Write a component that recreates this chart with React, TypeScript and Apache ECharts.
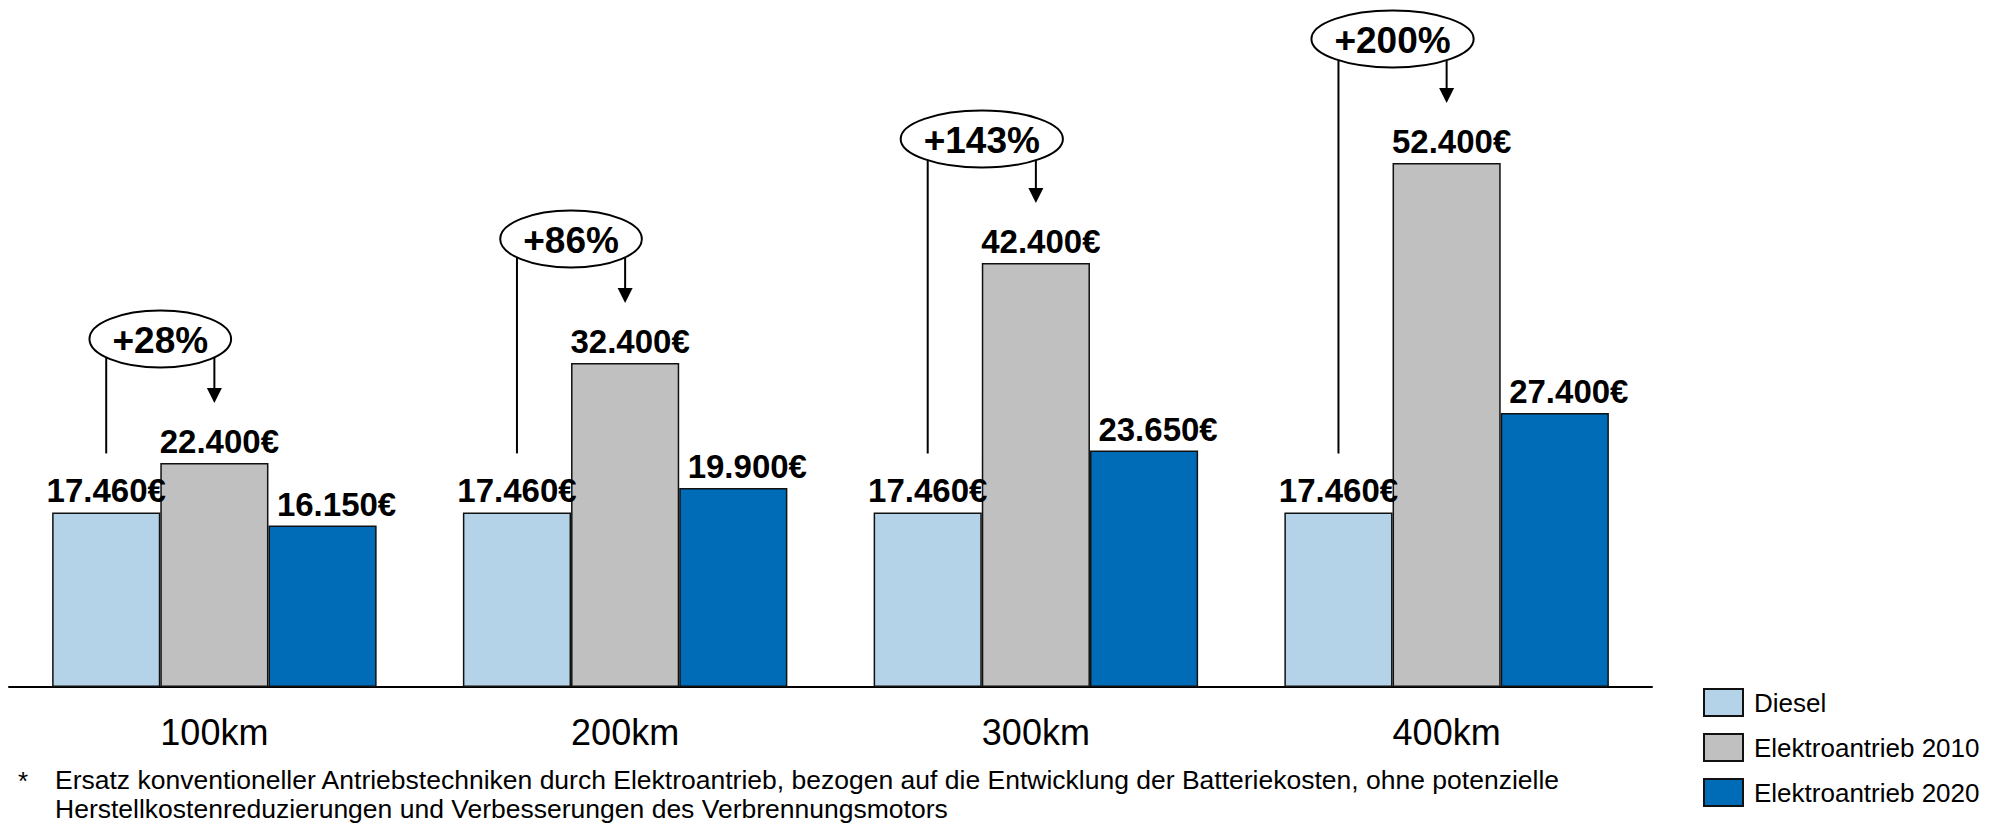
import React, { useEffect, useRef } from "react";
import * as echarts from "echarts";

const categories = ["100km", "200km", "300km", "400km"];
const seriesNames = ["Diesel", "Elektroantrieb 2010", "Elektroantrieb 2020"];
const diesel = [17460, 17460, 17460, 17460];
const elektro2010 = [22400, 32400, 42400, 52400];
const elektro2020 = [16150, 19900, 23650, 27400];
const increaseLabels = ["+28%", "+86%", "+143%", "+200%"];
const footnoteLines = [
  "Ersatz konventioneller Antriebstechniken durch Elektroantrieb, bezogen auf die Entwicklung der Batteriekosten, ohne potenzielle",
  "Herstellkostenreduzierungen und Verbesserungen des Verbrennungsmotors",
];

const FONT = '"Liberation Sans", Arial, sans-serif';
const colors = ["#b4d3e8", "#c0c0c0", "#006bb6"];
const CAT_GAP = 0.21;

function fmt(v: number) {
  return String(v).replace(/\B(?=(\d{3})+(?!\d))/g, ".") + "€";
}

function measure(text: string, font: string) {
  const ctx = document.createElement("canvas").getContext("2d");
  if (!ctx) return text.length * 20;
  ctx.font = font;
  return ctx.measureText(text).width;
}

export default function App() {
  const ref = useRef<HTMLDivElement>(null);
  useEffect(() => {
    if (!ref.current) return;
    const chart = echarts.init(ref.current, undefined, { renderer: "svg" });
    const labelStyle = {
      show: true,
      position: "top",
      fontFamily: FONT,
      fontWeight: "bold",
      fontSize: 33,
      color: "#000",
      formatter: (p: any) => fmt(p.value),
    };
    const barBase = (name: string, data: number[], color: string, offsetX: number) => ({
      name,
      type: "bar",
      data,
      barGap: "0%",
      barCategoryGap: CAT_GAP * 100 + "%",
      itemStyle: { color, borderColor: "#111", borderWidth: 1.5 },
      label: { ...labelStyle, offset: [offsetX, 0] },
      z: 2,
    });

    const annSize = 37;
    const annFont = `bold ${annSize}px ${FONT}`;

    chart.setOption({
      animation: false,
      grid: { left: 9, right: 2002 - 1652, top: 87, bottom: 139, containLabel: false },
      legend: {
        orient: "vertical",
        left: 1703,
        top: 688,
        padding: 0,
        itemWidth: 39,
        itemHeight: 27,
        itemGap: 16,
        icon: "rect",
        data: seriesNames,
        textStyle: { fontFamily: FONT, fontSize: 26, color: "#000", padding: [0, 0, 0, 6] },
      },
      xAxis: {
        type: "category",
        data: categories,
        axisTick: { show: false },
        axisLine: { lineStyle: { color: "#000", width: 2 } },
        axisLabel: { fontFamily: FONT, fontSize: 36, color: "#000", margin: 27 },
      },
      yAxis: {
        type: "value",
        min: 0,
        max: 60000,
        show: false,
        splitLine: { show: false },
      },
      series: [
        barBase(seriesNames[0], diesel, colors[0], 0),
        barBase(seriesNames[1], elektro2010, colors[1], 5),
        barBase(seriesNames[2], elektro2020, colors[2], 14),
        {
          type: "custom",
          name: "annotations",
          silent: true,
          clip: false,
          z: 10,
          encode: { x: 0, y: 1 },
          data: categories.map((_, i) => [i, elektro2010[i], diesel[i]]),
          renderItem: (params: any, api: any) => {
            const idx = api.value(0);
            const grayVal = api.value(1);
            const dieselVal = api.value(2);
            const text = increaseLabels[params.dataIndex];
            const [cx] = api.coord([idx, 0]);
            const band = api.size([1, 0])[0];
            const barW = (band * (1 - CAT_GAP)) / 3;
            const dX = cx - barW;
            const gX = cx;
            const grayTop = api.coord([idx, grayVal])[1];
            const dieselTop = api.coord([idx, dieselVal])[1];
            const ecx = (dX + gX) / 2;
            const ecy = grayTop - 124;
            const rx = measure(text, annFont) / 2 + 23;
            const ry = 28.5;
            const edgeY = (x: number) => {
              const t = (x - ecx) / rx;
              return ecy + ry * Math.sqrt(Math.max(0, 1 - t * t));
            };
            const tip = grayTop - 60;
            return {
              type: "group",
              children: [
                {
                  type: "line",
                  shape: { x1: dX, y1: edgeY(dX), x2: dX, y2: dieselTop - 59 },
                  style: { stroke: "#000", lineWidth: 2 },
                },
                {
                  type: "line",
                  shape: { x1: gX, y1: edgeY(gX), x2: gX, y2: tip - 14 },
                  style: { stroke: "#000", lineWidth: 2 },
                },
                {
                  type: "polygon",
                  shape: { points: [[gX - 7.5, tip - 15], [gX + 7.5, tip - 15], [gX, tip]] },
                  style: { fill: "#000" },
                },
                {
                  type: "ellipse",
                  shape: { cx: ecx, cy: ecy, rx, ry },
                  style: { fill: "#fff", stroke: "#000", lineWidth: 2 },
                },
                {
                  type: "text",
                  x: ecx,
                  y: ecy + 1,
                  style: {
                    text,
                    fill: "#000",
                    fontFamily: FONT,
                    fontWeight: "bold",
                    fontSize: annSize,
                    align: "center",
                    verticalAlign: "middle",
                  },
                },
              ],
            };
          },
        },
      ],
      graphic: [
        {
          type: "text",
          left: 18,
          top: 768,
          style: { text: "*", fontFamily: FONT, fontSize: 26, fill: "#000" },
        },
        {
          type: "text",
          left: 55,
          top: 766,
          style: { text: footnoteLines[0], fontFamily: FONT, fontSize: 26.5, fill: "#000" },
        },
        {
          type: "text",
          left: 55,
          top: 795,
          style: { text: footnoteLines[1], fontFamily: FONT, fontSize: 26.5, fill: "#000" },
        },
      ],
    });
    return () => chart.dispose();
  }, []);
  return (
    <div
      ref={ref}
      style={{ position: "fixed", left: 0, top: 0, width: 2002, height: 826, background: "#fff" }}
    />
  );
}
